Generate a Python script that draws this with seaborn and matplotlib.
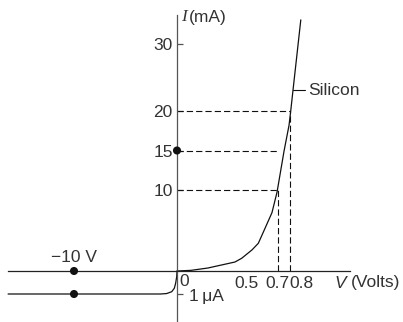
import numpy as np
import matplotlib
matplotlib.use("Agg")
import matplotlib.pyplot as plt
import seaborn as sns
import pandas as pd

# ---------------- data (volts, mA) ----------------
fwd_v = [0, 0.1, 0.221, 0.414, 0.462, 0.532, 0.573, 0.603, 0.661, 0.694, 0.75, 0.792, 0.806, 0.825, 0.89]
fwd_i = [0, 0.08, 0.37, 1.11, 1.57, 2.6, 3.42, 4.7, 7.2, 9.75, 14.9, 18.2, 20, 23.1, 33.6]
rev_v = [-16.4, -1.6, -1.0, -0.51, -0.26, -0.13, -0.03, 0]
rev_i = [-0.001, -0.001, -0.00098, -0.0009, -0.00075, -0.00053, -0.00025, 0]
y_ticks = [10, 15, 20, 30]
y_ticklabels = ["10", "15", "20", "30"]
x_ticks = [0.5, 0.7, 0.8]
x_ticklabels = ["0.5", "0.7", "0.8"]
dot_v = [0, -10, -10]
dot_i = [15, 0, -0.001]
h_dash_i = [10, 15, 20]
h_dash_v = [0.7, 0.7, 0.8]
v_dash_v = [0.7, 0.8]
v_dash_i = [10, 20]
rev_current = -0.001
rev_voltage = -10
silicon_pt = (0.825, 23.1)

# ---------------- schematic (piecewise) scales ----------------
x_knots_v = [-20, -10, 0, 0.5, 0.7, 0.8, 2.0]
x_knots_px = [-29, 74, 177, 247, 278, 290, 434]
y_knots_i = [-0.004, -0.001, 0, 10, 20, 30, 50]
y_knots_pos = [322 - p for p in [363, 294, 271, 190, 111, 44, -90]]

fx = lambda v: np.interp(v, x_knots_v, x_knots_px)
ix = lambda p: np.interp(p, x_knots_px, x_knots_v)
fy = lambda i: np.interp(i, y_knots_i, y_knots_pos)
iy = lambda p: np.interp(p, y_knots_pos, y_knots_i)

sns.set_style("white")
plt.rcParams["font.family"] = ["Liberation Sans", "DejaVu Sans"]
plt.rcParams["lines.scale_dashes"] = False

TXT = "#333333"
AX = "#555555"
LN = "#111111"
FS = 12.5

fig = plt.figure(figsize=(4.03, 3.22), dpi=100)
ax = fig.add_axes([0, 0, 1, 1])
ax.set_xscale("function", functions=(fx, ix))
ax.set_yscale("function", functions=(fy, iy))
ax.patch.set_alpha(0)

y_top = float(iy(322 - 15))

# curves
df_f = pd.DataFrame({"V": fwd_v, "I": fwd_i})
df_r = pd.DataFrame({"V": rev_v, "I": rev_i})
sns.lineplot(data=df_f, x="V", y="I", ax=ax, color=LN, lw=0.9, estimator=None, sort=False)
sns.lineplot(data=df_r, x="V", y="I", ax=ax, color=LN, lw=0.9, estimator=None, sort=False)

# dashed guides
dash = (0, (4.5, 2.2))
for i, v in zip(h_dash_i, h_dash_v):
    ax.plot([0, v], [i, i], color=LN, lw=0.8, ls=dash)
for v, i in zip(v_dash_v, v_dash_i):
    ax.plot([v, v], [0, i], color=LN, lw=0.8, ls=dash)

# dots
sns.scatterplot(x=dot_v, y=dot_i, ax=ax, color="#111111", s=34, edgecolor="none",
                zorder=5, clip_on=False, legend=False)

ax.set_xlabel("")
ax.set_ylabel("")
ax.set_xlim(float(ix(0)), float(ix(403)))
ax.set_ylim(float(iy(0)), float(iy(322)))

# spines as axes through origin
for s in ["top", "right"]:
    ax.spines[s].set_visible(False)
ax.spines["left"].set_position(("data", 0))
ax.spines["bottom"].set_position(("data", 0))
ax.spines["left"].set_bounds(float(iy(0)), y_top)
ax.spines["bottom"].set_bounds(-16.4, 1.3)
ax.spines["left"].set_color(AX)
ax.spines["bottom"].set_color("#222222")
ax.spines["left"].set_linewidth(0.9)
ax.spines["bottom"].set_linewidth(0.9)

ax.set_yticks(y_ticks + [rev_current])
ax.set_yticklabels(y_ticklabels + [""])
ax.tick_params(axis="y", left=True, direction="in", length=4, width=0.9, color=AX,
               pad=3, labelsize=FS, labelcolor=TXT)
ax.set_xticks([])
ax.minorticks_off()

# x labels
offs = {0.5: 0, 0.7: -1, 0.8: 11}
for v, lab in zip(x_ticks, x_ticklabels):
    ax.annotate(lab, xy=(v, 0), xytext=(offs[v], -12), textcoords="offset pixels",
                ha="center", va="center", fontsize=FS, color=TXT)
ax.annotate("0", xy=(0, 0), xytext=(7, -11), textcoords="offset pixels",
            ha="center", va="center", fontsize=FS, color=TXT)
ax.annotate("1\u2009\u03bcA", xy=(0, rev_current), xytext=(12, -2), textcoords="offset pixels",
            ha="left", va="center", fontsize=FS, color=TXT)
ax.annotate("\u221210 V", xy=(rev_voltage, 0), xytext=(0, 13), textcoords="offset pixels",
            ha="center", va="center", fontsize=FS, color=TXT)

# axis titles
ax.annotate("I", xy=(0, y_top), xytext=(4, -2), textcoords="offset pixels",
            ha="left", va="center", fontsize=FS, color=TXT,
            family="Liberation Serif", style="italic")
ax.annotate("(mA)", xy=(0, y_top), xytext=(12, -2), textcoords="offset pixels",
            ha="left", va="center", fontsize=FS, color=TXT)
ax.annotate("V", xy=(1.3, 0), xytext=(-15, -12), textcoords="offset pixels",
            ha="left", va="center", fontsize=FS, color=TXT, style="italic")
ax.annotate("(Volts)", xy=(1.3, 0), xytext=(50, -12), textcoords="offset pixels",
            ha="right", va="center", fontsize=FS, color=TXT)

# Silicon label
ax.plot([silicon_pt[0], 0.925], [silicon_pt[1], silicon_pt[1]], color=LN, lw=0.8)
ax.annotate("Silicon", xy=(0.925, silicon_pt[1]), xytext=(3, 0), textcoords="offset pixels",
            ha="left", va="center", fontsize=FS, color=TXT)

fig.savefig("out.png", dpi=100)
